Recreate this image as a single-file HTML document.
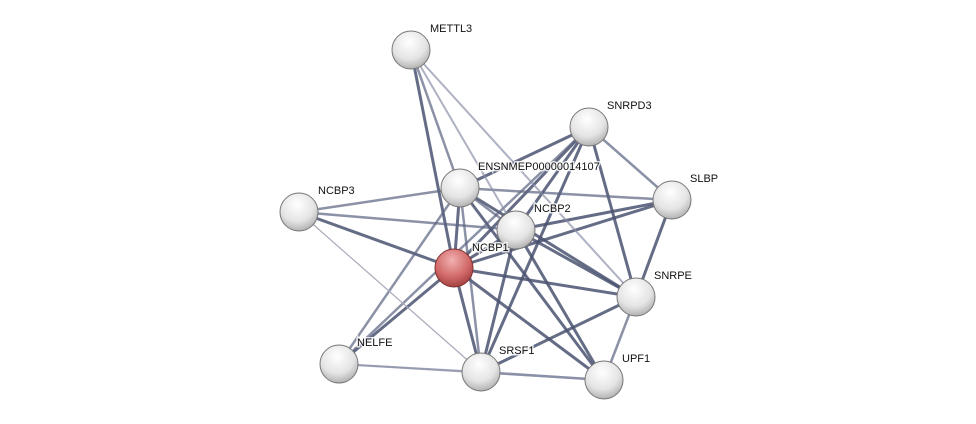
<!DOCTYPE html>
<html><head><style>body{margin:0;background:#fff}svg{display:block}text{font-family:"Liberation Sans",sans-serif;font-size:11px;fill:#111;stroke:#fff;stroke-width:3;paint-order:stroke;stroke-opacity:0.8}</style></head><body>
<svg width="976" height="424" viewBox="0 0 976 424">
<defs>
<radialGradient id="g" cx="45%" cy="30%" r="75%"><stop offset="0" stop-color="#fff"/><stop offset="0.6" stop-color="#e4e4e4"/><stop offset="1" stop-color="#a8a8a8"/></radialGradient>
<radialGradient id="r" cx="45%" cy="30%" r="75%"><stop offset="0" stop-color="#f2b0b0"/><stop offset="0.6" stop-color="#d06868"/><stop offset="1" stop-color="#9a3a3a"/></radialGradient>
</defs>
<g stroke-linecap="round">
<g stroke="#4a5270" stroke-opacity="0.85" stroke-width="3">
<line x1="411" y1="50" x2="454" y2="268"/>
<line x1="454" y1="268" x2="516" y2="230"/>
<line x1="454" y1="268" x2="460" y2="188"/>
<line x1="454" y1="268" x2="299" y2="212"/>
<line x1="454" y1="268" x2="589" y2="127"/>
<line x1="454" y1="268" x2="672" y2="200"/>
<line x1="454" y1="268" x2="636" y2="297"/>
<line x1="454" y1="268" x2="604" y2="380"/>
<line x1="454" y1="268" x2="481" y2="372"/>
<line x1="454" y1="268" x2="339" y2="364"/>
<line x1="516" y1="230" x2="589" y2="127"/>
<line x1="516" y1="230" x2="672" y2="200"/>
<line x1="516" y1="230" x2="636" y2="297"/>
<line x1="516" y1="230" x2="604" y2="380"/>
<line x1="516" y1="230" x2="481" y2="372"/>
<line x1="589" y1="127" x2="636" y2="297"/>
<line x1="589" y1="127" x2="481" y2="372"/>
<line x1="672" y1="200" x2="636" y2="297"/>
<line x1="636" y1="297" x2="481" y2="372"/>
<line x1="460" y1="188" x2="589" y2="127"/>
<line x1="460" y1="188" x2="636" y2="297"/>
<line x1="460" y1="188" x2="604" y2="380"/>
</g>
<g stroke="#5a6280" stroke-opacity="0.7" stroke-width="2.5">
<line x1="299" y1="212" x2="460" y2="188"/>
<line x1="299" y1="212" x2="516" y2="230"/>
<line x1="460" y1="188" x2="516" y2="230"/>
<line x1="460" y1="188" x2="481" y2="372"/>
<line x1="460" y1="188" x2="339" y2="364"/>
<line x1="460" y1="188" x2="672" y2="200"/>
<line x1="589" y1="127" x2="672" y2="200"/>
<line x1="636" y1="297" x2="604" y2="380"/>
<line x1="481" y1="372" x2="604" y2="380"/>
<line x1="411" y1="50" x2="460" y2="188"/>
<line x1="339" y1="364" x2="589" y2="127"/>
</g>
<g stroke="#8a90a8" stroke-opacity="0.7" stroke-width="2">
<line x1="411" y1="50" x2="516" y2="230"/>
<line x1="411" y1="50" x2="636" y2="297"/>
<line x1="339" y1="364" x2="481" y2="372"/>
<line x1="339" y1="364" x2="604" y2="380"/>
</g>
<line x1="299" y1="212" x2="481" y2="372" stroke="#aab" stroke-width="1.2"/>
</g>
<g stroke="#777" stroke-width="1">
<circle cx="411" cy="50" r="19" fill="url(#g)"/>
<circle cx="589" cy="127" r="19" fill="url(#g)"/>
<circle cx="460" cy="188" r="19" fill="url(#g)"/>
<circle cx="299" cy="212" r="19" fill="url(#g)"/>
<circle cx="672" cy="200" r="19" fill="url(#g)"/>
<circle cx="636" cy="297" r="19" fill="url(#g)"/>
<circle cx="339" cy="364" r="19" fill="url(#g)"/>
<circle cx="481" cy="372" r="19" fill="url(#g)"/>
<circle cx="604" cy="380" r="19" fill="url(#g)"/>
<circle cx="454" cy="268" r="19" fill="url(#r)" stroke="#803030"/>
<circle cx="516" cy="230" r="19" fill="url(#g)"/>
</g>
<text x="430" y="32">METTL3</text>
<text x="607" y="109">SNRPD3</text>
<text x="478" y="170">ENSNMEP00000014107</text>
<text x="318" y="194">NCBP3</text>
<text x="690" y="182">SLBP</text>
<text x="534" y="212">NCBP2</text>
<text x="472" y="251">NCBP1</text>
<text x="654" y="279">SNRPE</text>
<text x="357" y="346">NELFE</text>
<text x="499" y="354">SRSF1</text>
<text x="622" y="362">UPF1</text>
</svg>
</body></html>
